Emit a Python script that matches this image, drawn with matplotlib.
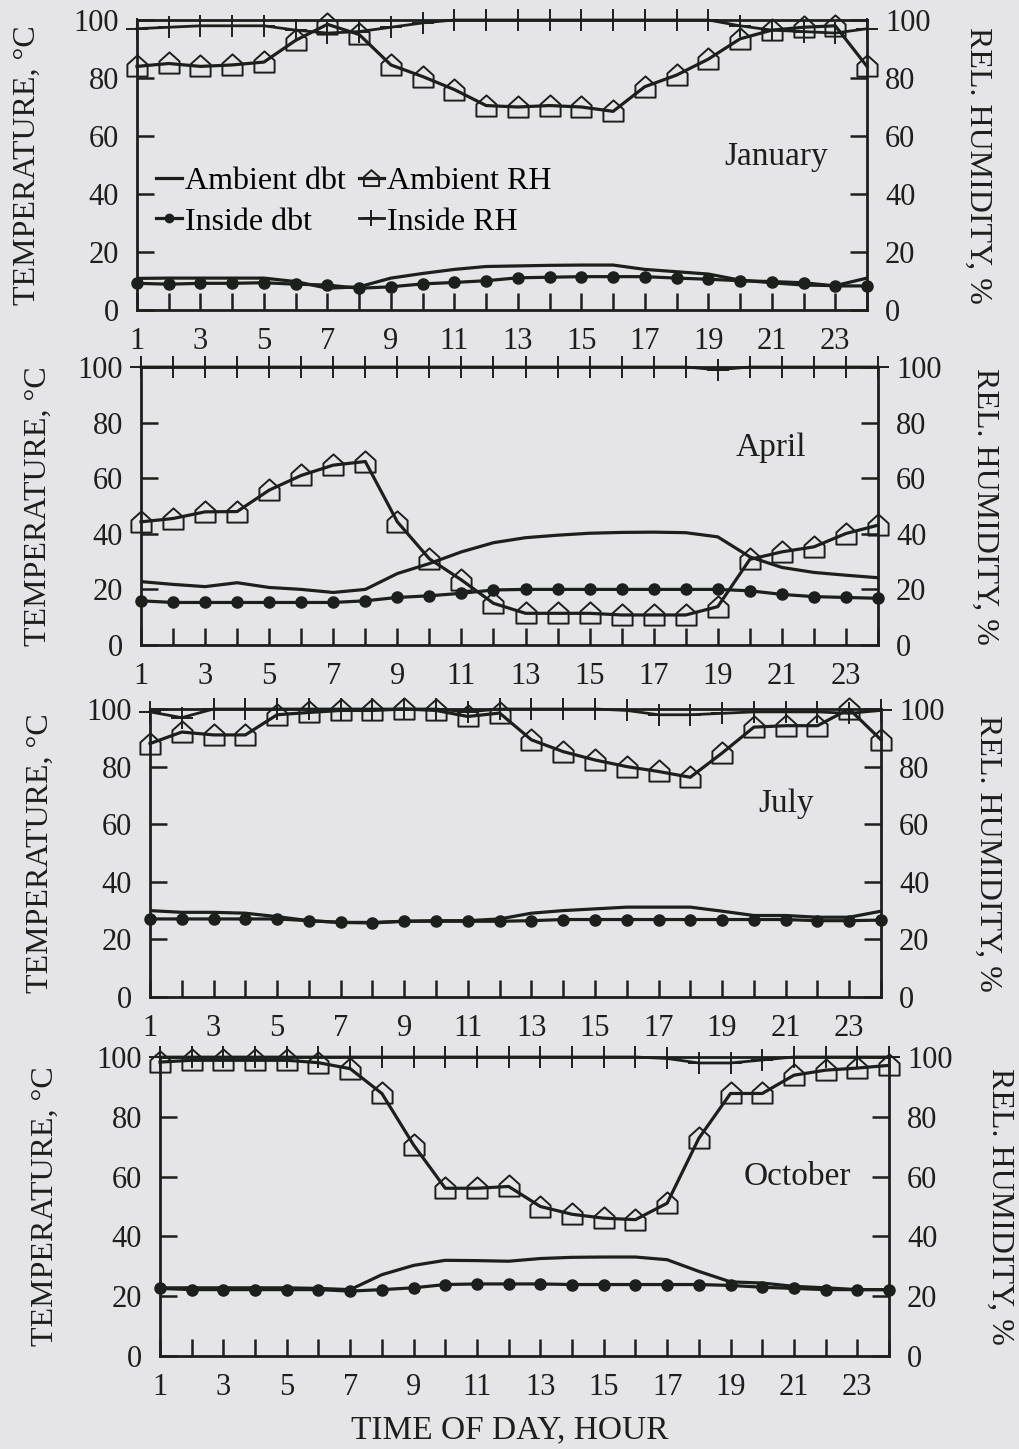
import matplotlib
matplotlib.use("Agg")
import matplotlib.pyplot as plt
from matplotlib.path import Path

plt.rcParams['font.family'] = ['Liberation Serif', 'DejaVu Serif']

hours = list(range(1, 25))
x_tick_labels = [str(h) for h in range(1, 24, 2)]

# January
jan_amb_dbt = [10.9, 11, 11, 11, 11, 9.8, 7.5, 8, 11, 12.6, 14, 15, 15.2, 15.4,
               15.5, 15.5, 14, 13.2, 12.4, 10.3, 9.4, 8.6, 8.4, 11]
jan_in_dbt = [9.2, 8.9, 9.2, 9.2, 9.4, 8.9, 8.6, 7.5, 8, 9, 9.5, 10.1, 11.1, 11.3,
              11.5, 11.5, 11.5, 11, 10.6, 10.1, 9.8, 9.4, 8.3, 8.3]
jan_amb_rh = [84, 85, 84, 84.5, 85.5, 93, 98.5, 95, 84.5, 80.5, 76, 70.5, 70, 70.5,
              70, 68.5, 77, 81, 86.5, 93.5, 96.5, 97.5, 98, 84]
jan_in_rh = [97, 97.5, 98, 98, 98, 96.5, 95.5, 96, 97.5, 99, 100, 100, 100, 100,
             100, 100, 100, 100, 100, 98, 96.5, 96, 95.5, 97]

# April
apr_amb_dbt = [22.8, 21.8, 21, 22.4, 20.7, 20, 18.9, 20, 25.7, 29.3, 33.5, 36.8, 38.6, 39.5,
               40.2, 40.5, 40.6, 40.4, 38.9, 31.7, 27.9, 26.1, 25.1, 24.2]
apr_in_dbt = [15.9, 15.3, 15.3, 15.3, 15.3, 15.3, 15.3, 15.9, 17.1, 17.7, 18.6, 19.8, 20, 20,
              20, 20, 20, 20, 20, 19.5, 18.2, 17.4, 17.1, 16.8]
apr_amb_rh = [44.3, 45.5, 47.9, 48, 55.7, 61, 64.7, 66, 44.3, 31, 23.4, 15, 11.4, 11.4,
              11.4, 10.8, 10.8, 10.8, 13.8, 30.8, 33.5, 35.3, 40.1, 43.1]
apr_in_rh = [100, 100, 100, 100, 100, 100, 100, 100, 100, 100, 100, 100, 100, 100,
             100, 100, 100, 100, 99, 100, 100, 100, 100, 100]

# July
jul_amb_dbt = [30, 29.4, 29.4, 29.1, 27.9, 26.5, 25.9, 25.9, 26.3, 26.5, 26.5, 27.1, 29.1, 30,
               30.6, 31.2, 31.2, 31.2, 29.8, 28.3, 28.3, 27.7, 27.7, 29.8]
jul_in_dbt = [27.1, 27.1, 27.1, 27.1, 27.1, 26.5, 25.9, 25.7, 26.3, 26.3, 26.3, 26.3, 26.5, 26.9,
              26.9, 26.9, 26.9, 26.9, 26.9, 26.9, 26.9, 26.5, 26.5, 26.7]
jul_amb_rh = [88, 92, 91, 91, 98, 98.8, 99.5, 99.5, 100, 99.5, 97.4, 98.6, 89.3, 85.2,
              82.3, 80, 78.3, 76.3, 84.7, 93.7, 94.2, 94.2, 100, 89.3]
jul_in_rh = [99, 97, 100, 100, 100, 100, 100, 100, 100, 100, 99, 100, 100, 100,
             100, 99.5, 98, 98, 98.5, 99, 99, 99, 98.5, 99.5]

# October
oct_amb_dbt = [22.8, 22.8, 22.8, 22.8, 22.8, 22.6, 22.2, 27.2, 30.3, 32, 31.9, 31.7, 32.6, 33,
               33.1, 33.1, 32.2, 28.3, 24.8, 24.4, 23.3, 22.8, 22.2, 22.2]
oct_in_dbt = [22.6, 22.2, 22.2, 22.2, 22.2, 22.2, 21.7, 22.2, 22.8, 23.9, 24.1, 24.1, 24.1, 23.9,
              23.9, 23.9, 23.9, 23.9, 23.6, 23, 22.6, 22.2, 22.2, 22.2]
oct_amb_rh = [98.3, 98.9, 98.9, 98.9, 98.9, 98.1, 96.1, 87.8, 70.6, 56.1, 56.1, 56.7, 50, 47.4,
              46.1, 45.6, 51.1, 72.8, 87.8, 87.8, 93.9, 95.6, 96.3, 97.2]
oct_in_rh = [100, 100, 100, 100, 100, 100, 100, 100, 100, 100, 100, 100, 100, 100,
             100, 100, 99.5, 98, 98, 99, 100, 100, 100, 100]

months = ["January", "April", "July", "October"]
amb_dbt = [jan_amb_dbt, apr_amb_dbt, jul_amb_dbt, oct_amb_dbt]
in_dbt = [jan_in_dbt, apr_in_dbt, jul_in_dbt, oct_in_dbt]
amb_rh = [jan_amb_rh, apr_amb_rh, jul_amb_rh, oct_amb_rh]
in_rh = [jan_in_rh, apr_in_rh, jul_in_rh, oct_in_rh]

# house shaped marker for ambient RH
house = Path([(-1, -1), (1, -1), (1, 0.2), (0, 1.1), (-1, 0.2), (-1, -1)],
             [Path.MOVETO, Path.LINETO, Path.LINETO, Path.LINETO, Path.LINETO, Path.CLOSEPOLY])

bg = "#e5e5e7"
ink = "#1c1f1c"
W, H = 1020, 1449

fig = plt.figure(figsize=(10.2, 14.49), dpi=100, facecolor=bg)

# panel box in pixels: left, right, top, bottom
boxes = [(137, 867, 20, 310), (141, 878, 367, 645), (150, 881, 709, 997), (160, 889, 1057, 1356)]
ylab_left_x = [27, 38, 40, 45]
ylab_right_x = [978, 985, 988, 1000]
month_pos = [(0.875, 0.53), (0.855, 0.71), (0.87, 0.67), (0.875, 0.60)]

for i, m in enumerate(months):
    l, r, t, b = boxes[i]
    ax = fig.add_axes([l / W, 1 - b / H, (r - l) / W, (b - t) / H])
    ax.set_facecolor(bg)
    ax.plot(hours, amb_dbt[i], color=ink, lw=2.3, label="Ambient dbt", zorder=3)
    ax.plot(hours, in_dbt[i], color=ink, lw=2.3, marker="o", ms=8, label="Inside dbt",
            clip_on=False, zorder=4)
    ax.plot(hours, amb_rh[i], color=ink, lw=2.3, marker=house, ms=16, mfc="none", mew=1.4,
            label="Ambient RH", clip_on=False, zorder=4)
    ax.plot(hours, in_rh[i], color=ink, lw=2.0, marker="+", ms=16, mew=1.4,
            label="Inside RH", clip_on=False, zorder=4)
    ax.set_xlim(1, 24)
    ax.set_ylim(0, 100)
    ax.set_xticks(range(1, 24, 2))
    ax.set_xticklabels(x_tick_labels)
    ax.set_xticks(range(2, 25, 2), minor=True)
    ax.set_yticks(range(0, 101, 20))
    ax.tick_params(axis="both", which="both", direction="in", length=12, width=1.8,
                   labelsize=22, colors=ink)
    ax.tick_params(axis="x", which="both", pad=12)
    ax.tick_params(axis="y", right=True, labelright=True, pad=13)
    for s in ax.spines.values():
        s.set_linewidth(2.0)
        s.set_color(ink)
    fig.text(ylab_left_x[i] / W, 1 - (t + b) / 2 / H, "TEMPERATURE, °C", rotation=90,
             fontsize=23, color=ink, ha="center", va="center")
    fig.text(ylab_right_x[i] / W, 1 - (t + b) / 2 / H, "REL. HUMIDITY, %", rotation=-90,
             fontsize=23, color=ink, ha="center", va="center")
    ax.text(month_pos[i][0], month_pos[i][1], m, transform=ax.transAxes, fontsize=24,
            color=ink, ha="center", va="center")
    if i == 0:
        h, lab = ax.get_legend_handles_labels()
        ax.legend(h, lab, ncol=2, loc="upper left", bbox_to_anchor=(0.0, 0.56),
                  frameon=False, fontsize=23, handlelength=0.8, handletextpad=0.1,
                  columnspacing=0.4, labelspacing=0.35, borderaxespad=0.2,
                  markerscale=0.75)

fig.text(0.5, 1 - 1430 / H, "TIME OF DAY, HOUR", fontsize=24, color=ink, ha="center", va="center")

fig.savefig("out.png", dpi=100, facecolor=bg)
